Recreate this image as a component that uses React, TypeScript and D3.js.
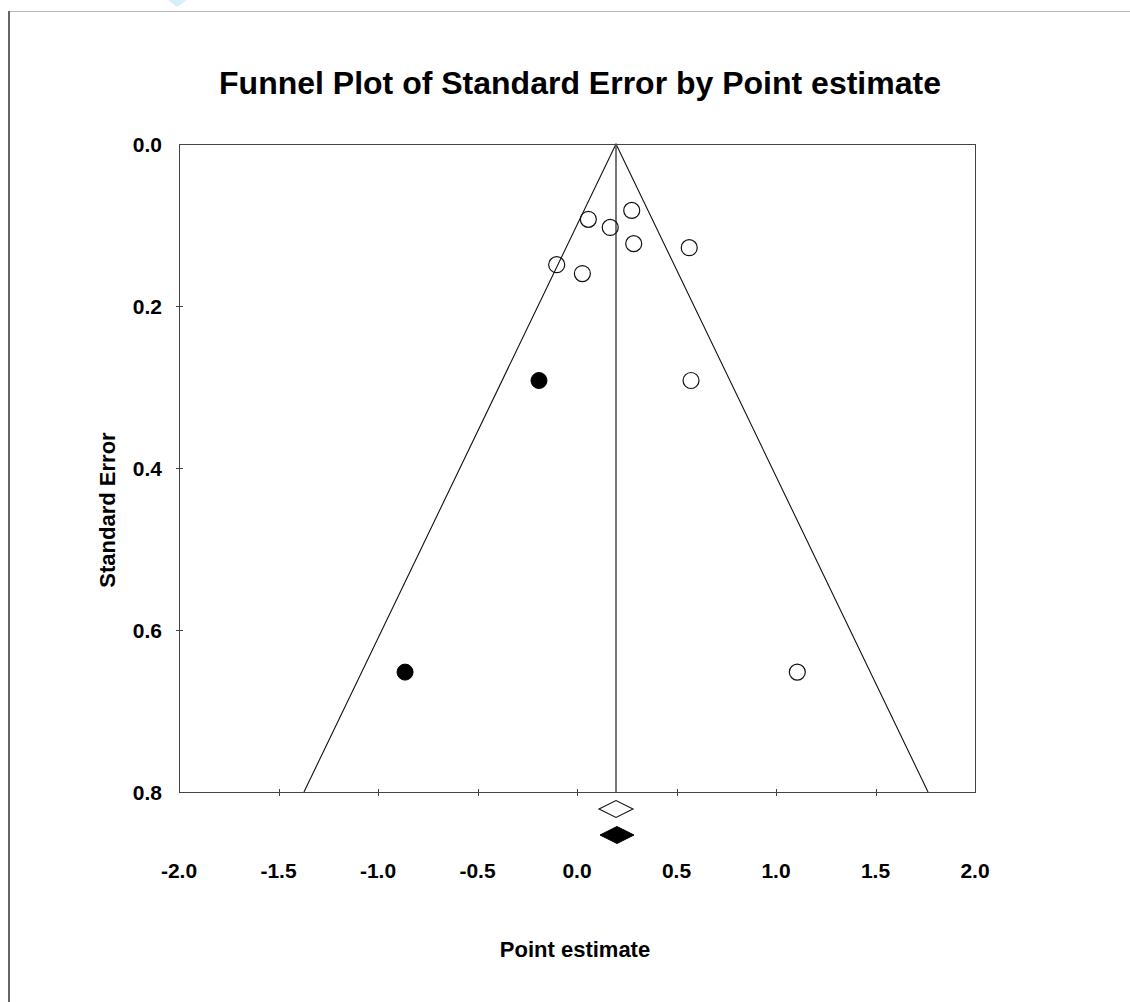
import React, { useEffect, useRef } from "react";
import * as d3 from "d3";

// observed studies (open circles)
const studyEstimates = [ 0.057, 0.275, 0.167, 0.285, 0.564, -0.102, 0.027, 0.573, 1.107 ];
const studyErrors = [ 0.093, 0.082, 0.103, 0.123, 0.128, 0.149, 0.160, 0.292, 0.652 ];

// imputed studies (filled circles)
const imputedEstimates = [ -0.191, -0.864 ];
const imputedErrors = [ 0.292, 0.652 ];

const observedMean = 0.196;
const adjustedMean = 0.201;

const xTicks = [ -2.0, -1.5, -1.0, -0.5, 0.0, 0.5, 1.0, 1.5, 2.0 ];
const yTicks = [ 0.0, 0.2, 0.4, 0.6, 0.8 ];

const W = 1130, H = 1002;
const FONT = "Arial, 'Liberation Sans', sans-serif";

export default function App() {

	const ref = useRef<SVGSVGElement>( null );

	useEffect( () => {

		const svg = d3.select( ref.current );
		svg.selectAll( "*" ).remove();

		const left = 179, right = 975, top = 144, bottom = 792;

		const x = d3.scaleLinear().domain( [ -2, 2 ] ).range( [ left, right ] );
		const y = d3.scaleLinear().domain( [ 0, 0.8 ] ).range( [ top, bottom ] );

		// page frame + watermark scrap
		svg.append( "line" ).attr( "x1", 8 ).attr( "x2", W ).attr( "y1", 11.5 ).attr( "y2", 11.5 )
			.attr( "stroke", "#bbb" ).attr( "stroke-width", 1 );
		svg.append( "line" ).attr( "x1", 9 ).attr( "x2", 9 ).attr( "y1", 11 ).attr( "y2", H )
			.attr( "stroke", "#666" ).attr( "stroke-width", 2 );
		svg.append( "polygon" ).attr( "points", "168,0 187,0 177,7" ).attr( "fill", "#d6effc" );

		svg.append( "text" )
			.attr( "x", 580 ).attr( "y", 94 )
			.attr( "text-anchor", "middle" )
			.attr( "font-family", FONT ).attr( "font-weight", "bold" ).attr( "font-size", 32 )
			.text( "Funnel Plot of Standard Error by Point estimate" );

		// plot frame
		svg.append( "rect" )
			.attr( "x", left + 0.5 ).attr( "y", top + 0.5 )
			.attr( "width", right - left ).attr( "height", bottom - top )
			.attr( "fill", "none" ).attr( "stroke", "#444" ).attr( "stroke-width", 1 );

		// ticks
		const g = svg.append( "g" );
		xTicks.slice( 1, -1 ).forEach( function( t ) {
			g.append( "line" )
				.attr( "x1", Math.round( x( t ) ) + 0.5 ).attr( "x2", Math.round( x( t ) ) + 0.5 )
				.attr( "y1", bottom - 3 ).attr( "y2", bottom + 4 )
				.attr( "stroke", "#444" );
		});
		yTicks.slice( 1, -1 ).forEach( function( t ) {
			g.append( "line" )
				.attr( "y1", Math.round( y( t ) ) + 0.5 ).attr( "y2", Math.round( y( t ) ) + 0.5 )
				.attr( "x1", left - 3 ).attr( "x2", left + 4 )
				.attr( "stroke", "#444" );
		});

		g.selectAll( ".xlab" ).data( xTicks ).enter().append( "text" )
			.attr( "x", function( d ) { return x( d ); } )
			.attr( "y", 878 )
			.attr( "text-anchor", "middle" )
			.attr( "font-family", FONT ).attr( "font-weight", "bold" ).attr( "font-size", 21 )
			.text( function( d ) { return d3.format( ".1f" )( d ).replace( "−", "-" ); } );

		g.selectAll( ".ylab" ).data( yTicks ).enter().append( "text" )
			.attr( "x", 162 )
			.attr( "y", function( d ) { return y( d ) + 7.5; } )
			.attr( "text-anchor", "end" )
			.attr( "font-family", FONT ).attr( "font-weight", "bold" ).attr( "font-size", 21 )
			.text( function( d ) { return d3.format( ".1f" )( d ); } );

		// axis titles
		svg.append( "text" )
			.attr( "transform", "translate(115,510) rotate(-90)" )
			.attr( "text-anchor", "middle" )
			.attr( "font-family", FONT ).attr( "font-weight", "bold" ).attr( "font-size", 22 )
			.text( "Standard Error" );

		svg.append( "text" )
			.attr( "x", 575 ).attr( "y", 957 )
			.attr( "text-anchor", "middle" )
			.attr( "font-family", FONT ).attr( "font-weight", "bold" ).attr( "font-size", 22 )
			.text( "Point estimate" );

		// funnel
		const maxSE = y.domain()[ 1 ];
		const funnel = d3.line<[ number, number ]>()
			.x( function( d ) { return x( d[ 0 ] ); } )
			.y( function( d ) { return y( d[ 1 ] ); } );

		svg.append( "path" )
			.attr( "d", funnel( [
				[ observedMean - 1.96 * maxSE, maxSE ],
				[ observedMean, 0 ],
				[ observedMean + 1.96 * maxSE, maxSE ],
			] ) )
			.attr( "fill", "none" ).attr( "stroke", "#111" ).attr( "stroke-width", 1.1 );

		svg.append( "line" )
			.attr( "x1", x( observedMean ) ).attr( "x2", x( observedMean ) )
			.attr( "y1", y( 0 ) ).attr( "y2", y( maxSE ) )
			.attr( "stroke", "#555" ).attr( "stroke-width", 1.6 );

		// points
		svg.selectAll( ".study" ).data( studyEstimates ).enter().append( "circle" )
			.attr( "cx", function( d ) { return x( d ); } )
			.attr( "cy", function( d, i ) { return y( studyErrors[ i ] ); } )
			.attr( "r", 8 )
			.attr( "fill", "none" ).attr( "stroke", "#111" ).attr( "stroke-width", 1.2 );

		svg.selectAll( ".imputed" ).data( imputedEstimates ).enter().append( "circle" )
			.attr( "cx", function( d ) { return x( d ); } )
			.attr( "cy", function( d, i ) { return y( imputedErrors[ i ] ); } )
			.attr( "r", 8 )
			.attr( "fill", "#000" ).attr( "stroke", "#000" );

		// summary diamonds
		const diamond = function( cx: number, cy: number ) {
			return `M${ cx - 17 },${ cy } L${ cx },${ cy - 8.5 } L${ cx + 17 },${ cy } L${ cx },${ cy + 8.5 } Z`;
		};
		svg.append( "path" ).attr( "d", diamond( x( observedMean ), 809 ) )
			.attr( "fill", "#fff" ).attr( "stroke", "#111" ).attr( "stroke-width", 1.1 );
		svg.append( "path" ).attr( "d", diamond( x( adjustedMean ), 835 ) )
			.attr( "fill", "#000" ).attr( "stroke", "#000" );

	}, [] );

	return (
		<svg ref={ ref } width={ W } height={ H }
			style={ { position: "absolute", left: 0, top: 0, background: "#fff" } } />
	);
}
